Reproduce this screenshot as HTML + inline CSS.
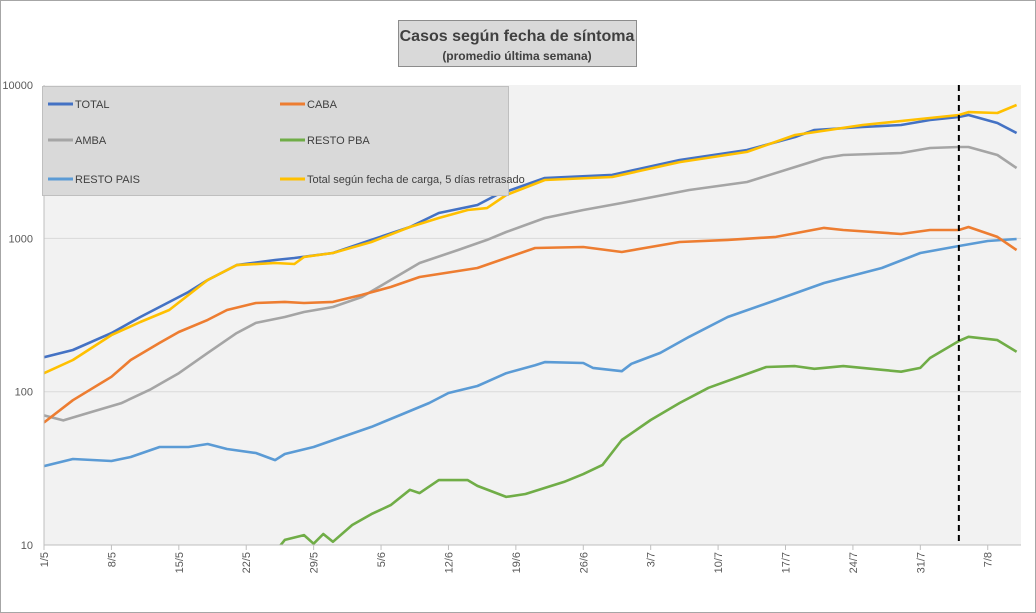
<!DOCTYPE html>
<html><head><meta charset="utf-8"><style>
body{margin:0;background:#fff;}
svg{display:block;font-family:"Liberation Sans",sans-serif;}
</style></head><body>
<svg id="chart" width="1036" height="613" viewBox="0 0 1036 613">
<rect x="0.5" y="0.5" width="1035" height="612" fill="#fff" stroke="#a6a6a6"/>
<rect x="44" y="85" width="977" height="460" fill="#f2f2f2"/>
<g id="grid"></g>
<g id="series"></g>
<g id="axes"></g>
<g>
<rect x="398.5" y="20.5" width="238" height="46" fill="#d9d9d9" stroke="#8c8c8c"/>
<text x="517" y="41" text-anchor="middle" font-size="16" font-weight="bold" fill="#404040">Casos según fecha de síntoma</text>
<text x="517" y="60" text-anchor="middle" font-size="12" font-weight="bold" fill="#404040">(promedio última semana)</text>
</g>
<g id="legend">
<rect x="42.5" y="86.5" width="466" height="109" fill="#d9d9d9" stroke="#bfbfbf"/>
</g>
</svg>
<script>
const tickLabels=["1/5","8/5","15/5","22/5","29/5","5/6","12/6","19/6","26/6","3/7","10/7","17/7","24/7","31/7","7/8"];
const tickDays=[0,7,14,21,28,35,42,49,56,63,70,77,84,91,98];
const yTicks=[10,100,1000,10000];
const dashedDay=95;

const totalDays=[0,3,7,10,15,17,20,24,26,30,34,38,41,45,47,52,59,66,73,78,80,85,89,92,95,96,99,101];
const totalVals=[168,187,241,307,447,535,670,723,745,803,977,1186,1465,1652,1920,2478,2594,3246,3773,4584,5097,5333,5495,5922,6196,6385,5662,4872];
const cabaDays=[0,3,7,9,12,14,17,19,22,25,27,30,33,36,39,45,48,51,56,60,66,71,76,81,83,89,92,95,96,99,101];
const cabaVals=[63,88,125,161,208,245,294,341,379,385,379,385,428,482,560,641,745,866,879,815,948,977,1023,1170,1134,1068,1134,1134,1186,1023,840];
const ambaDays=[0,2,5,8,11,14,17,20,22,25,27,30,33,36,39,43,46,48,52,56,60,67,73,78,81,83,89,92,95,96,99,101];
const ambaVals=[70,65,74,84,103,132,179,241,281,307,331,357,415,535,691,840,977,1101,1358,1531,1702,2070,2333,2924,3344,3499,3606,3890,3946,3946,3499,2878];
const pbaDays=[0,24,25,27,28,29,30,32,34,36,38,39,41,44,45,48,50,54,56,58,60,63,66,69,75,78,80,83,87,89,91,92,95,96,99,101];
const pbaVals=[3,9,10.8,11.6,10.2,11.8,10.5,13.5,15.9,18.2,22.9,21.8,26.5,26.5,24.3,20.6,21.5,25.8,29,33.3,48.4,65.4,84.4,106,145,147,141,147,139,135,143,166,214,228,217,182];
const paisDays=[0,3,7,9,12,15,17,19,22,24,25,28,31,34,37,40,42,45,48,51,52,56,57,60,61,64,67,71,76,81,87,91,95,98,101];
const paisVals=[32.7,36.4,35.3,37.5,43.6,43.6,45.6,42.3,39.8,35.8,39.2,43.6,50.7,58.9,70.5,84.4,98.1,109,132,149,156,154,143,136,152,179,228,307,396,512,641,803,892,962,991];
const cargaDays=[0,3,7,10,13,17,20,24,26,27,30,34,38,41,44,46,48,52,59,66,73,78,85,92,95,96,99,101];
const cargaVals=[132,161,234,285,341,535,670,691,681,756,803,948,1186,1358,1531,1577,1920,2404,2516,3148,3664,4728,5495,6100,6385,6668,6573,7413];

const X0=44,DX=9.63,YB=545,DEC=153.3,NS="http://www.w3.org/2000/svg";
function xs(d){return X0+d*DX;}
function ys(v){return YB-(Math.log10(v)-1)*DEC;}
function mk(tag,attrs,parent){const e=document.createElementNS(NS,tag);for(const k in attrs)e.setAttribute(k,attrs[k]);parent.appendChild(e);return e;}

const grid=document.getElementById('grid');
yTicks.forEach((v,i)=>{
  if(v>10&&v<10000){const l=mk('line',{x1:44,x2:1021,y1:ys(v),y2:ys(v),stroke:'#d9d9d9','stroke-width':1},grid);
  
  }
});
const axes=document.getElementById('axes');
const xa=mk('line',{x1:44,x2:1021,y1:545,y2:545,stroke:'#bfbfbf'},axes);


const ya=mk('line',{x1:44,x2:44,y1:85,y2:545,stroke:'#bfbfbf'},axes);


yTicks.forEach(v=>{
  const t=mk('text',{x:33,y:ys(v)+4,'text-anchor':'end','font-size':11,fill:'#595959'},axes);
  t.textContent=String(v);
  
  
});
tickDays.forEach((d,i)=>{
  const x=xs(d);
  const tk=mk('line',{x1:x,x2:x,y1:545,y2:550,stroke:'#bfbfbf'},axes);
  
  
  const t=mk('text',{x:0,y:0,'text-anchor':'end','font-size':11,fill:'#595959',transform:`translate(${x+4},552) rotate(-90)`},axes);
  t.textContent=tickLabels[i];
  
  
});

const sg=document.getElementById('series');
mk('clipPath',{id:'clip'},sg);
mk('rect',{x:44,y:85,width:977,height:460},sg.querySelector('#clip'));
const series=[
 ['resto-pais',paisDays,paisVals,'#5b9bd5'],
 ['resto-pba',pbaDays,pbaVals,'#70ad47'],
 ['amba',ambaDays,ambaVals,'#a5a5a5'],
 ['caba',cabaDays,cabaVals,'#ed7d31'],
 ['total',totalDays,totalVals,'#4472c4'],
 ['total-fecha-carga',cargaDays,cargaVals,'#ffc000']
];
series.forEach(s=>{
  const pts=s[1].map((d,i)=>xs(d).toFixed(1)+','+ys(s[2][i]).toFixed(1)).join(' ');
  const p=mk('polyline',{points:pts,fill:'none',stroke:s[3],'stroke-width':2.6,'stroke-linejoin':'round','clip-path':'url(#clip)'},sg);
  
  
});
const dl=mk('line',{x1:xs(dashedDay),x2:xs(dashedDay),y1:85,y2:545,stroke:'#000','stroke-width':2,'stroke-dasharray':'6,4'},sg);



const lg=document.getElementById('legend');
const entries=[['TOTAL','#4472c4',48,104],['CABA','#ed7d31',280,104],['AMBA','#a5a5a5',48,140],['RESTO PBA','#70ad47',280,140],['RESTO PAIS','#5b9bd5',48,179],['Total según fecha de carga, 5 días retrasado','#ffc000',280,179]];
entries.forEach(e=>{
  const g=mk('g',{},lg);
  
  
  mk('line',{x1:e[2],x2:e[2]+25,y1:e[3],y2:e[3],stroke:e[1],'stroke-width':3},g);
  const t=mk('text',{x:e[2]+27,y:e[3]+4,'font-size':11,fill:'#404040'},g);
  t.textContent=e[0];
});
</script>
</body></html>
